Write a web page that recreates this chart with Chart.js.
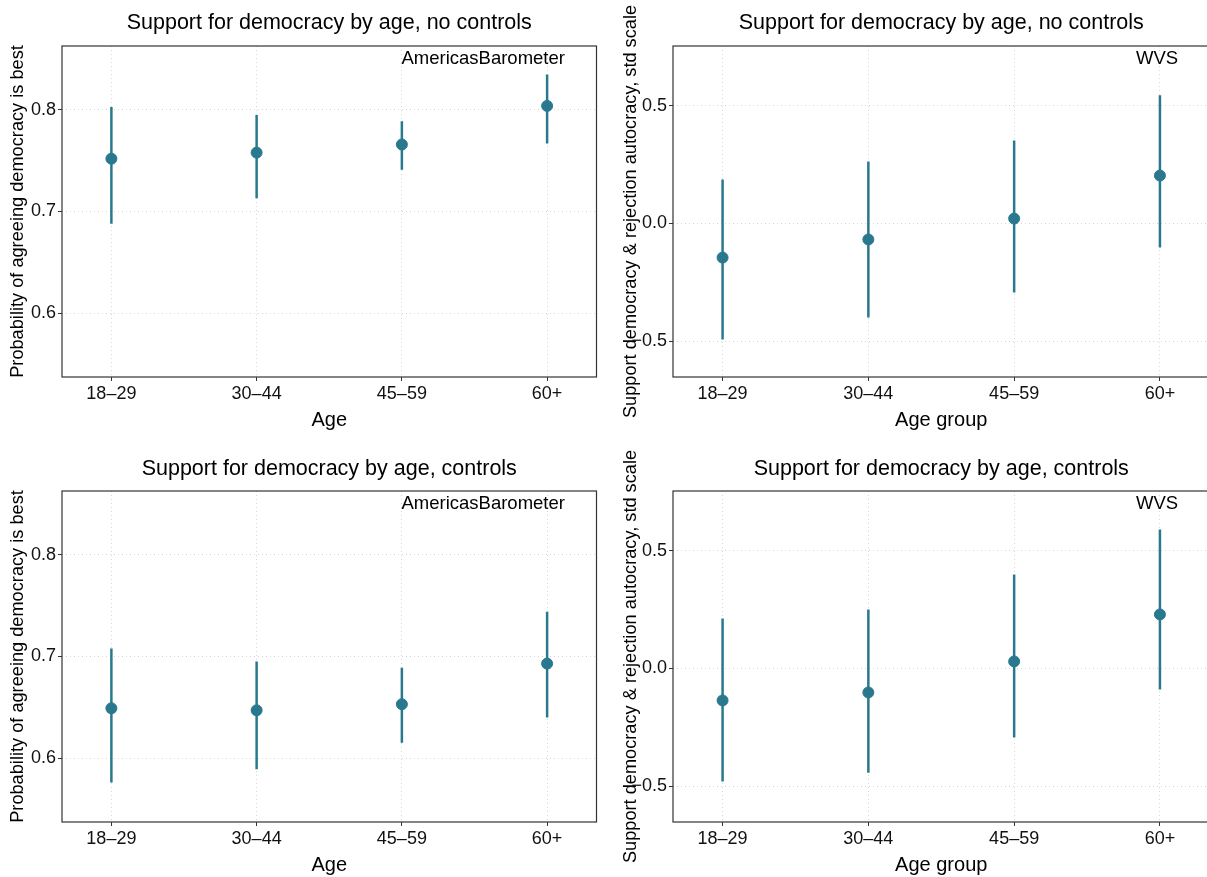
<!DOCTYPE html>
<html>
<head>
<meta charset="utf-8">
<script src="https://cdn.jsdelivr.net/npm/chart.js@4"></script>
<style>
  html, body { margin: 0; padding: 0; background: #fff; overflow: hidden; }
  body { width: 1207px; height: 877px; position: relative; }
  canvas { position: absolute; }
</style>
</head>
<body>
<canvas id="c1" width="603" height="432" style="left:0;top:0"></canvas>
<canvas id="c2" width="605" height="432" style="left:611px;top:0"></canvas>
<canvas id="c3" width="603" height="432" style="left:0;top:445px"></canvas>
<canvas id="c4" width="605" height="432" style="left:611px;top:445px"></canvas>
<script>
    // age groups on x axis
    const ageGroups = ['18\u201329', '30\u201344', '45\u201359', '60+'];

    // AmericasBarometer, no controls
    const abNoCtrlEst = [0.752, 0.758, 0.766, 0.804];
    const abNoCtrlLo  = [0.688, 0.713, 0.741, 0.767];
    const abNoCtrlHi  = [0.803, 0.795, 0.789, 0.835];

    // WVS, no controls
    const wvsNoCtrlEst = [-0.145, -0.068, 0.021, 0.204];
    const wvsNoCtrlLo  = [-0.494, -0.400, -0.294, -0.102];
    const wvsNoCtrlHi  = [0.187, 0.264, 0.353, 0.545];

    // AmericasBarometer, controls
    const abCtrlEst = [0.649, 0.647, 0.653, 0.693];
    const abCtrlLo  = [0.576, 0.589, 0.615, 0.640];
    const abCtrlHi  = [0.708, 0.695, 0.689, 0.744];

    // WVS, controls
    const wvsCtrlEst = [-0.136, -0.102, 0.030, 0.230];
    const wvsCtrlLo  = [-0.481, -0.443, -0.294, -0.089];
    const wvsCtrlHi  = [0.213, 0.251, 0.400, 0.591];

    const abTicks = [0.6, 0.7, 0.8];
    const wvsTicks = [-0.5, 0.0, 0.5];

    const teal = '#2a788e';
    const FONT = "'Liberation Sans', Arial, Helvetica, sans-serif";

    // frame, title and source label
    const panelDeco = {
        id: 'panelDeco',
        afterDraw(chart) {
            const { ctx, chartArea: a } = chart;
            const o = chart.options.plugins.panelDeco;
            ctx.save();
            ctx.strokeStyle = '#333333';
            ctx.lineWidth = 1.2;
            ctx.strokeRect(a.left, a.top, a.right - a.left, a.bottom - a.top);
            ctx.fillStyle = '#000';
            ctx.textAlign = 'center';
            ctx.textBaseline = 'middle';
            ctx.font = '21.5px ' + FONT;
            ctx.fillText(o.title, (a.left + a.right) / 2, o.titleY);
            ctx.font = '18.5px ' + FONT;
            ctx.textBaseline = 'top';
            ctx.fillText(o.source, chart.scales.x.getPixelForValue(o.sourceX), a.top + 4);
            ctx.restore();
        }
    };

    function makePanel(id, est, lo, hi, opts) {
        const bars = [];
        ageGroups.forEach((g, i) => {
            bars.push({ x: i, y: lo[i] }, { x: i, y: hi[i] }, { x: i, y: null });
        });
        const pts = est.map((v, i) => ({ x: i, y: v }));
        return new Chart(document.getElementById(id), {
            type: 'scatter',
            data: {
                datasets: [
                    {
                        type: 'line',
                        data: bars,
                        borderColor: teal,
                        borderWidth: 2.5,
                        pointRadius: 0,
                        spanGaps: false
                    },
                    {
                        data: pts,
                        backgroundColor: teal,
                        borderColor: teal,
                        pointRadius: 5.5
                    }
                ]
            },
            options: {
                responsive: false,
                animation: false,
                layout: { padding: { top: 46, right: opts.padRight, bottom: 0, left: 0 } },
                plugins: {
                    legend: { display: false },
                    tooltip: { enabled: false },
                    panelDeco: opts
                },
                scales: {
                    x: {
                        type: 'linear',
                        min: -0.34,
                        max: 3.34,
                        afterBuildTicks: s => { s.ticks = ageGroups.map((g, i) => ({ value: i })); },
                        afterFit: s => { s.height = 55; },
                        ticks: {
                            callback: v => ageGroups[v],
                            color: '#111',
                            font: { family: FONT, size: 18 },
                            padding: 2,
                            maxRotation: 0
                        },
                        grid: { color: 'rgba(0,0,0,0.16)', tickColor: '#333', tickLength: 4, tickWidth: 1 },
                        border: { display: false, dash: [1, 3] },
                        title: {
                            display: true,
                            text: opts.xTitle,
                            color: '#000',
                            font: { family: FONT, size: 20 },
                            padding: { top: 4, bottom: 0 }
                        }
                    },
                    y: {
                        min: opts.yMin,
                        max: opts.yMax,
                        afterBuildTicks: s => { s.ticks = opts.yTicks.map(v => ({ value: v })); },
                        afterFit: s => { s.width = 62; },
                        ticks: {
                            callback: v => (v < 0 ? '\u2212' : '') + Math.abs(v).toFixed(1),
                            color: '#111',
                            font: { family: FONT, size: 18 },
                            padding: 2
                        },
                        grid: { color: 'rgba(0,0,0,0.16)', tickColor: '#333', tickLength: 4, tickWidth: 1 },
                        border: { display: false, dash: [1, 3] },
                        title: {
                            display: true,
                            text: opts.yTitle,
                            color: '#000',
                            font: { family: FONT, size: 18.2 },
                            padding: { top: opts.yTitlePad, bottom: 0 }
                        }
                    }
                }
            },
            plugins: [panelDeco]
        });
    }

    const abTitle = 'Probability of agreeing democracy is best';
    const wvsTitle = 'Support democracy & rejection autocracy, std scale';

    makePanel('c1', abNoCtrlEst, abNoCtrlLo, abNoCtrlHi, {
        title: 'Support for democracy by age, no controls', titleY: 23,
        source: 'AmericasBarometer', sourceX: 2.56,
        xTitle: 'Age', yTitle: abTitle, yTitlePad: 7,
        yMin: 0.537, yMax: 0.863, yTicks: abTicks, padRight: 6
    });
    makePanel('c2', wvsNoCtrlEst, wvsNoCtrlLo, wvsNoCtrlHi, {
        title: 'Support for democracy by age, no controls', titleY: 23,
        source: 'WVS', sourceX: 2.98,
        xTitle: 'Age group', yTitle: wvsTitle, yTitlePad: 9,
        yMin: -0.653, yMax: 0.755, yTicks: wvsTicks, padRight: 1
    });
    makePanel('c3', abCtrlEst, abCtrlLo, abCtrlHi, {
        title: 'Support for democracy by age, controls', titleY: 24,
        source: 'AmericasBarometer', sourceX: 2.56,
        xTitle: 'Age', yTitle: abTitle, yTitlePad: 7,
        yMin: 0.537, yMax: 0.863, yTicks: abTicks, padRight: 6
    });
    makePanel('c4', wvsCtrlEst, wvsCtrlLo, wvsCtrlHi, {
        title: 'Support for democracy by age, controls', titleY: 24,
        source: 'WVS', sourceX: 2.98,
        xTitle: 'Age group', yTitle: wvsTitle, yTitlePad: 9,
        yMin: -0.653, yMax: 0.755, yTicks: wvsTicks, padRight: 1
    });
</script>
</body>
</html>
